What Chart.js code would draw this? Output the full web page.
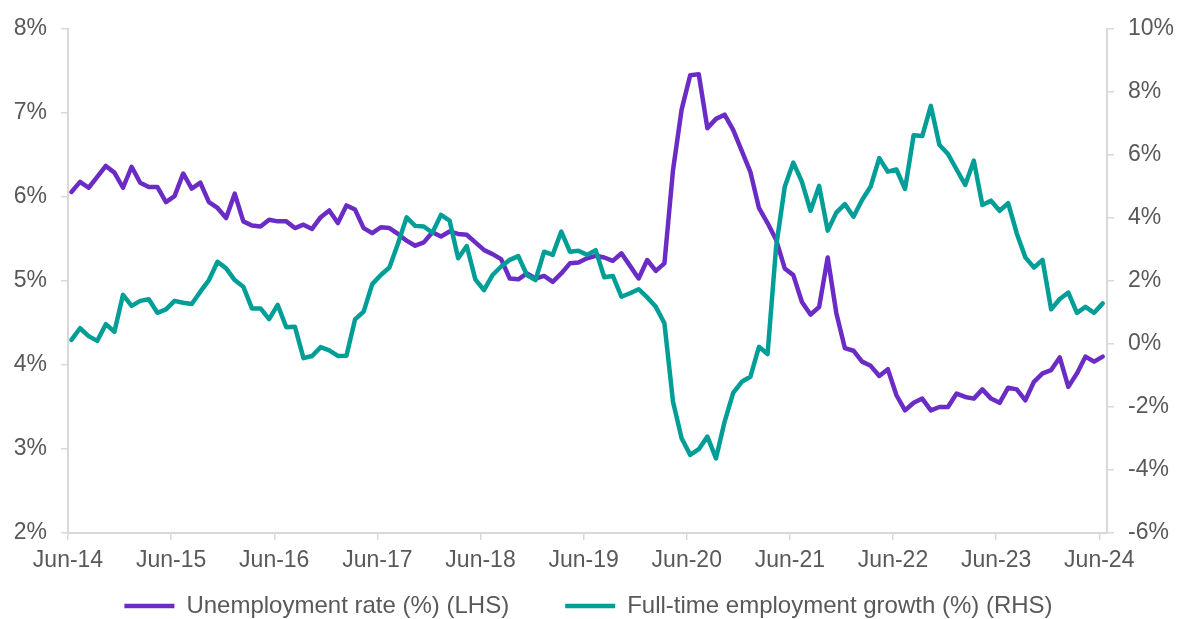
<!DOCTYPE html>
<html>
<head>
<meta charset="utf-8">
<script src="https://cdn.jsdelivr.net/npm/chart.js@4.4.1/dist/chart.umd.min.js"></script>
<style>
  html, body { margin: 0; padding: 0; background: #fff; }
  #wrap { width: 1177px; height: 619px; }
</style>
</head>
<body>
<div id="wrap"><canvas id="labourChart"></canvas></div>
<script>
// Year labels shown under the x axis (one every 12 months, Jun-14 .. Jun-24)
const tickLabels = ['Jun-14', 'Jun-15', 'Jun-16', 'Jun-17', 'Jun-18', 'Jun-19',
                    'Jun-20', 'Jun-21', 'Jun-22', 'Jun-23', 'Jun-24'];

// Monthly values, Jun-14 .. Jun-24 (121 months)
const unemploymentRate = [
  6.06, 6.18, 6.11, 6.24, 6.37, 6.29, 6.11, 6.36, 6.17, 6.12, 6.12, 5.94,
  6.01, 6.28, 6.10, 6.17, 5.94, 5.87, 5.75, 6.04, 5.71, 5.66, 5.65, 5.73,
  5.71, 5.71, 5.63, 5.67, 5.62, 5.76, 5.84, 5.69, 5.90, 5.85, 5.63, 5.57,
  5.64, 5.63, 5.56, 5.48, 5.42, 5.46, 5.58, 5.53, 5.59, 5.56, 5.55, 5.46,
  5.37, 5.32, 5.26, 5.03, 5.02, 5.09, 5.03, 5.06, 4.99, 5.09, 5.21, 5.22,
  5.27, 5.30, 5.28, 5.24, 5.33, 5.18, 5.03, 5.25, 5.12, 5.21, 6.32, 7.04,
  7.45, 7.46, 6.82, 6.93, 6.98, 6.80, 6.55, 6.30, 5.87, 5.69, 5.49, 5.15,
  5.07, 4.75, 4.60, 4.69, 5.28, 4.62, 4.20, 4.17, 4.04, 3.99, 3.87, 3.95,
  3.64, 3.46, 3.55, 3.60, 3.46, 3.50, 3.50, 3.66, 3.62, 3.60, 3.71, 3.60,
  3.55, 3.73, 3.71, 3.58, 3.80, 3.90, 3.94, 4.09, 3.74, 3.90, 4.10, 4.04,
  4.10
];

const fullTimeGrowth = [
   0.13,  0.50,  0.25,  0.10,  0.63,  0.39,  1.56,  1.21,  1.37,  1.42,  0.99,  1.10,
   1.37,  1.31,  1.27,  1.66,  2.03,  2.61,  2.40,  2.03,  1.82,  1.13,  1.13,  0.79,
   1.24,  0.53,  0.55, -0.45, -0.38, -0.10, -0.20, -0.38, -0.37,  0.78,  1.03,  1.90,
   2.19,  2.43,  3.19,  4.02,  3.75,  3.73,  3.53,  4.10,  3.92,  2.72,  3.11,  2.05,
   1.71,  2.19,  2.46,  2.67,  2.79,  2.19,  2.03,  2.93,  2.83,  3.57,  2.93,  2.96,
   2.83,  2.98,  2.12,  2.16,  1.50,  1.61,  1.74,  1.48,  1.18,  0.66, -1.83, -2.99,
  -3.52, -3.34, -2.94, -3.63, -2.47, -1.55, -1.20, -1.04, -0.09, -0.32,  3.09,  4.99,
   5.76,  5.15,  4.23,  5.02,  3.60,  4.17,  4.44,  4.04,  4.57,  5.00,  5.90,  5.47,
   5.54,  4.92,  6.63,  6.60,  7.56,  6.32,  6.03,  5.54,  5.05,  5.82,  4.41,  4.55,
   4.23,  4.47,  3.51,  2.75,  2.43,  2.67,  1.10,  1.43,  1.63,  0.99,  1.18,  0.99,
   1.29
];

const seriesNames = ['Unemployment rate (%) (LHS)', 'Full-time employment growth (%) (RHS)'];

// colours / fonts
const purple = '#6A2CC5';
const teal = '#009E96';
const axisGrey = '#D9D9D9';
const textGrey = '#595959';
const fontFamily = '"Liberation Sans", Arial, Helvetica, sans-serif';

Chart.defaults.font.family = fontFamily;
Chart.defaults.color = textGrey;

// month index -> point; x axis is a linear month scale
const toPoints = vals => vals.map((v, i) => ({ x: i, y: v }));

function sideAxis(position, min, max, step, width) {
  return {
    position: position,
    min: min,
    max: max,
    ticks: {
      stepSize: step,
      padding: 14,
      color: textGrey,
      font: { size: 23 },
      callback: v => v + '%'
    },
    grid: { drawOnChartArea: false, tickLength: 7, color: axisGrey, lineWidth: 1.5 },
    border: { color: axisGrey, width: 2 },
    afterFit: s => { s.width = width; }
  };
}

new Chart(document.getElementById('labourChart'), {
  type: 'line',
  data: {
    datasets: [
      {
        label: seriesNames[0],
        data: toPoints(unemploymentRate),
        yAxisID: 'yLeft',
        borderColor: purple,
        backgroundColor: purple,
        borderWidth: 4.5,
        borderCapStyle: 'round',
        borderJoinStyle: 'round',
        pointRadius: 0,
        tension: 0,
        order: 2
      },
      {
        label: seriesNames[1],
        data: toPoints(fullTimeGrowth),
        yAxisID: 'yRight',
        borderColor: teal,
        backgroundColor: teal,
        borderWidth: 4.5,
        borderCapStyle: 'round',
        borderJoinStyle: 'round',
        pointRadius: 0,
        tension: 0,
        order: 1 // teal sits over purple where they cross
      }
    ]
  },
  options: {
    responsive: true,
    maintainAspectRatio: false,
    animation: false,
    layout: { padding: { top: 29, right: 0, bottom: -9, left: 0 } },
    plugins: {
      tooltip: { enabled: false },
      legend: {
        position: 'bottom',
        // empty title with negative padding pulls the legend row up,
        // so the wide item spacing does not push it off the bottom
        title: { display: true, text: '', font: { size: 10, lineHeight: 1 }, padding: { top: 0, bottom: -45 } },
        labels: {
          usePointStyle: true,
          pointStyle: 'line',
          pointStyleWidth: 50,
          padding: 56,
          color: textGrey,
          font: { size: 24 },
          sort: (a, b) => a.datasetIndex - b.datasetIndex
        }
      }
    },
    scales: {
      x: {
        type: 'linear',
        min: -0.4,
        max: 120.5,
        afterBuildTicks: s => {
          s.ticks = tickLabels.map((_, k) => ({ value: k * 12 - 0.4 }));
        },
        ticks: {
          autoSkip: false,
          maxRotation: 0,
          padding: 7,
          color: textGrey,
          font: { size: 23 },
          callback: (v, idx) => tickLabels[idx]
        },
        grid: { drawOnChartArea: false, tickLength: 7, color: axisGrey, lineWidth: 1.5 },
        border: { color: axisGrey, width: 2 },
        afterFit: s => { s.height = 40; }
      },
      yLeft: sideAxis('left', 2, 8, 1, 68),
      yRight: sideAxis('right', -6, 10, 2, 70)
    }
  }
});
</script>
</body>
</html>
